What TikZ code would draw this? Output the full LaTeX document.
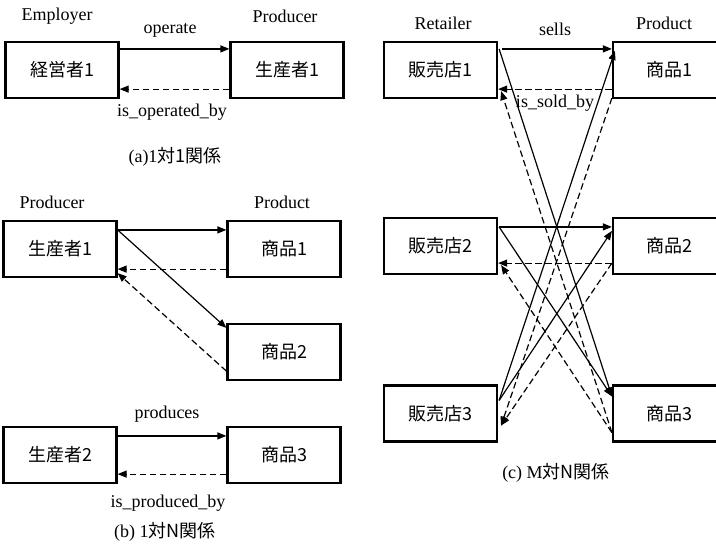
\documentclass[tikz,border=0pt]{standalone}
\usepackage{fontspec}
\setmainfont{Liberation Serif}
\newfontfamily\cjk{Noto Sans CJK JP}
\usetikzlibrary{arrows.meta}
\begin{document}
\begin{tikzpicture}[x=1pt,y=-1pt,
  box/.style={draw,line width=2.2pt,minimum width=113pt,minimum height=56pt,inner sep=0pt,font=\fontsize{18}{20}\selectfont},
  lbl/.style={inner sep=0pt,font=\fontsize{18}{20}\selectfont},
  solidarr/.style={line width=1.2pt,-{Triangle[length=9pt,width=7pt]}},
  dasharr/.style={line width=1.2pt,dash pattern=on 6.5pt off 3.5pt,-{Triangle[length=9pt,width=7pt]}}]
\useasboundingbox (0,0) rectangle (716,544);
\clip (0,0) rectangle (716,544);
% ---------- (a)
\node[box] (ea) at (62,70) {\cjk{経営者}1};
\node[box] (pa) at (287,70) {\cjk{生産者}1};
\node[lbl] (la1) at (57,16) {Employer};
\node[lbl] (la2) at (285,16) {Producer};
\node[lbl] (la3) at (170,30) {operate};
\node[lbl] (la4) at (172,112) {is\_operated\_by};
\node[lbl] (la5) at (175,157) {(a)1\cjk{対}1\cjk{関係}};
\draw[solidarr] ([yshift=-8pt]ea.north east) -- ([yshift=-8pt]pa.north west);
\draw[dasharr] ([yshift=10pt]pa.south west) -- ([yshift=10pt]ea.south east);
% ---------- (b)
\node[box] (pb1) at (60,249) {\cjk{生産者}1};
\node[box] (gb1) at (284,249) {\cjk{商品}1};
\node[box] (gb2) at (284,352) {\cjk{商品}2};
\node[box] (pb2) at (60,455) {\cjk{生産者}2};
\node[box] (gb3) at (284,455) {\cjk{商品}3};
\node[lbl] (lb1) at (52,202) {Producer};
\node[lbl] (lb2) at (282,202) {Product};
\node[lbl] (lb3) at (167,414) {produces};
\node[lbl] (lb4) at (168,503) {is\_produced\_by};
\node[lbl] (lb5) at (165,532) {(b) 1\cjk{対}N\cjk{関係}};
\draw[solidarr] ([yshift=-10pt]pb1.north east) -- ([yshift=-10pt]gb1.north west);
\draw[solidarr] ([yshift=-10pt]pb1.north east) -- ([yshift=-5pt]gb2.north west);
\draw[dasharr] ([yshift=9pt]gb1.south west) -- ([yshift=9pt]pb1.south east);
\draw[dasharr] ([yshift=10pt]gb2.south west) -- ([yshift=5pt]pb1.south east);
\draw[solidarr] ([yshift=-10pt]pb2.north east) -- ([yshift=-10pt]gb3.north west);
\draw[dasharr] ([yshift=10pt]gb3.south west) -- ([yshift=10pt]pb2.south east);
% ---------- (c)
\node[box] (r1) at (440.5,70) {\cjk{販売店}1};
\node[box] (r2) at (440.5,246) {\cjk{販売店}2};
\node[box] (r3) at (440.5,413.5) {\cjk{販売店}3};
\node[box] (g1) at (669.5,70) {\cjk{商品}1};
\node[box] (g2) at (669.5,246) {\cjk{商品}2};
\node[box] (g3) at (669.5,413.5) {\cjk{商品}3};
\node[lbl] (lc1) at (443,23) {Retailer};
\node[lbl] (lc2) at (664,23) {Product};
\node[lbl] (lc3) at (555,29) {sells};
\node[lbl] (lc4) at (555,103) {is\_sold\_by};
\node[lbl] (lc5) at (556,473) {(c) M\cjk{対}N\cjk{関係}};
\begin{scope}[every path/.append style={line width=1.1pt}]
\draw[solidarr] ([xshift=4pt,yshift=-8pt]r1.north east) -- ([yshift=-8pt]g1.north west);
\draw[dasharr] ([yshift=10pt]g1.south west) -- ([yshift=10pt]r1.south east);
\draw[solidarr] ([xshift=1pt,yshift=-8pt]r1.north east) -- ([yshift=-12pt]g3.north west);
\draw[dasharr] ([yshift=10pt]g3.south west) -- ([xshift=3pt,yshift=8pt]r1.south east);
\draw[solidarr] ([xshift=1pt,yshift=-10pt]r2.north east) -- ([yshift=-10pt]g2.north west);
\draw[dasharr] ([yshift=12pt]g2.south west) -- ([yshift=12pt]r2.south east);
\draw[solidarr] ([xshift=1pt,yshift=-10pt]r2.north east) -- ([yshift=-12pt]g3.north west);
\draw[dasharr] ([yshift=10pt]g3.south west) -- ([xshift=3pt,yshift=10pt]r2.south east);
\draw[solidarr] ([xshift=1pt,yshift=-16pt]r3.north east) -- ([xshift=3pt,yshift=-10pt]g1.north west);
\draw[solidarr] ([xshift=1pt,yshift=-16pt]r3.north east) -- ([yshift=-14pt]g2.north west);
\draw[dasharr] ([yshift=1pt]g1.south west) -- ([xshift=3pt,yshift=17pt]r3.south east);
\draw[dasharr] ([yshift=12pt]g2.south west) -- ([xshift=3pt,yshift=17pt]r3.south east);
\end{scope}
\end{tikzpicture}
\end{document}
